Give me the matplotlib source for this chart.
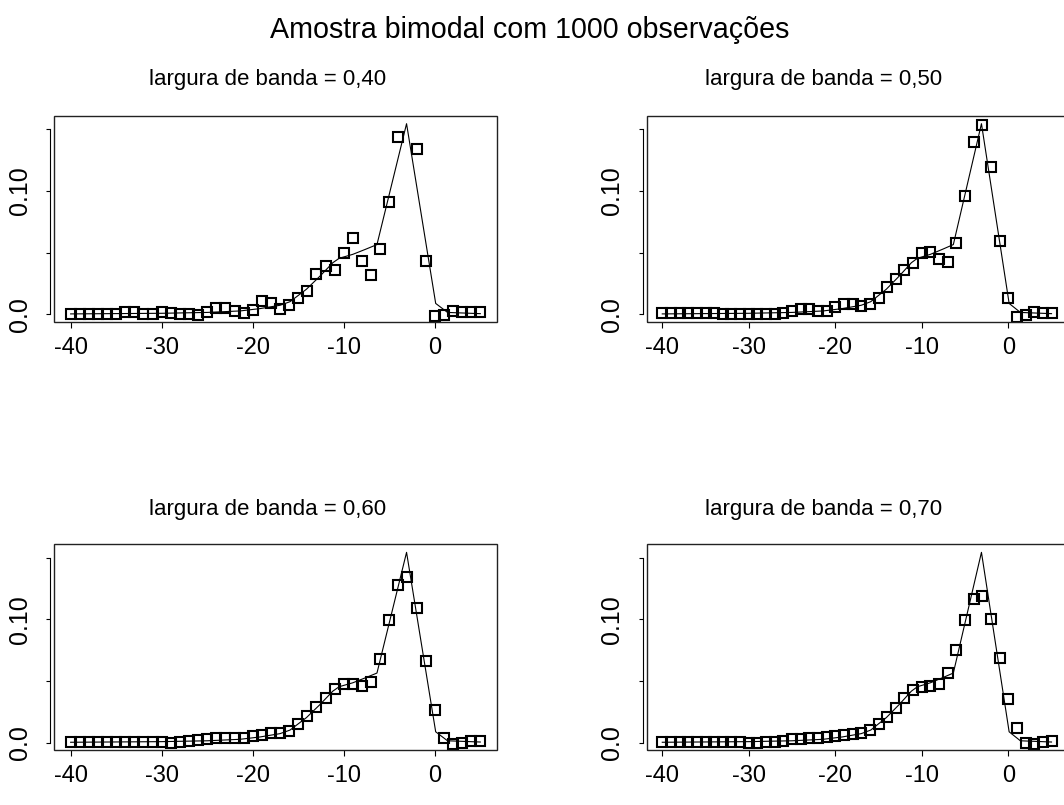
import matplotlib
matplotlib.use("Agg")
import matplotlib.pyplot as plt
from matplotlib.patches import Rectangle
import numpy as np

plt.rcParams['font.family'] = ['Liberation Sans', 'DejaVu Sans']

# ---------------- data ----------------
grid_x = list(range(-40, 6))

true_x = [-40, -30, -25, -21.4, -19.2, -17.0, -15.9, -14.1, -12.6, -11.2, -10.5,
          -9.0, -7.6, -6.35, -3.1, 0.1, 1.4, 5]
true_y = [0.0003, 0.0008, 0.0015, 0.0027, 0.0046, 0.0073, 0.0102, 0.0203, 0.031,
          0.0418, 0.0454, 0.0486, 0.0527, 0.0565, 0.1545, 0.0088, 0.0015, 0.0005]

est_040 = [0.0002, 0.0002, 0.0002, 0.0002, 0.0000, 0.0000, 0.0016, 0.0016, 0.0002, 0.0002,
           0.0016, 0.0008, 0.0002, 0.0002, -0.0006, 0.0022, 0.0049, 0.0049, 0.0027, 0.0010,
           0.0035, 0.0105, 0.0090, 0.0040, 0.0076, 0.0130, 0.0190, 0.0327, 0.0391, 0.0359,
           0.0494, 0.0616, 0.0434, 0.0319, 0.0527, 0.0907, 0.1439, 0.1750, 0.1340, 0.0434,
           -0.0010, -0.0006, 0.0027, 0.0015, 0.0015, 0.0015]
est_050 = [0.0007, 0.0007, 0.0007, 0.0007, 0.0007, 0.0007, 0.0007, 0.0002, 0.0002, 0.0002,
           0.0002, 0.0002, 0.0002, 0.0002, 0.0013, 0.0029, 0.0043, 0.0043, 0.0027, 0.0027,
           0.0056, 0.0083, 0.0083, 0.0069, 0.0080, 0.0129, 0.0218, 0.0290, 0.0359, 0.0418,
           0.0494, 0.0508, 0.0446, 0.0421, 0.0575, 0.0961, 0.1399, 0.1534, 0.1191, 0.0594,
           0.0134, -0.0024, -0.0006, 0.0016, 0.0007, 0.0007]
est_060 = [0.0008, 0.0008, 0.0008, 0.0008, 0.0008, 0.0008, 0.0008, 0.0008, 0.0008, 0.0008,
           0.0008, 0.0000, 0.0005, 0.0013, 0.0022, 0.0032, 0.0035, 0.0038, 0.0035, 0.0040,
           0.0054, 0.0065, 0.0076, 0.0081, 0.0095, 0.0148, 0.0216, 0.0289, 0.0364, 0.0432,
           0.0472, 0.0478, 0.0459, 0.0494, 0.0683, 0.0994, 0.1283, 0.1345, 0.1094, 0.0662,
           0.0262, 0.0040, -0.0008, 0.0000, 0.0013, 0.0013]
est_070 = [0.0005, 0.0005, 0.0005, 0.0005, 0.0005, 0.0005, 0.0005, 0.0005, 0.0005, 0.0005,
           0.0000, 0.0000, 0.0005, 0.0008, 0.0014, 0.0027, 0.0032, 0.0035, 0.0041, 0.0046,
           0.0054, 0.0062, 0.0073, 0.0081, 0.0103, 0.0154, 0.0211, 0.0284, 0.0359, 0.0424,
           0.0451, 0.0459, 0.0473, 0.0562, 0.0751, 0.0992, 0.1170, 0.1189, 0.1005, 0.0684,
           0.0351, 0.0116, 0.0000, -0.0008, 0.0005, 0.0014]

estimates = [est_040, est_050, est_060, est_070]
subtitles = ["largura de banda = 0,40", "largura de banda = 0,50",
             "largura de banda = 0,60", "largura de banda = 0,70"]
x_ticks = [-40, -30, -20, -10, 0]
x_ticklabels = ["-40", "-30", "-20", "-10", "0"]
y_ticks = [0.0, 0.05, 0.10, 0.15]
y_ticklabels = ["0.0", "", "0.10", ""]
title = "Amostra bimodal com 1000 observações"

# ---------------- layout ----------------
W, H = 1064, 805
fig = plt.figure(figsize=(W / 100, H / 100), dpi=100)

positions = [
    [0.0510, 0.6004, 0.4158, 0.2559],
    [0.6078, 0.6004, 0.3951, 0.2559],
    [0.0510, 0.0683, 0.4158, 0.2555],
    [0.6078, 0.0683, 0.3951, 0.2555],
]
sub_pos = [(268, 80), (824, 80), (268, 510), (824, 510)]

for i in range(4):
    ax = fig.add_axes(positions[i])
    ax.plot(true_x, true_y, color='black', lw=0.8, zorder=2)
    ax.plot(grid_x, estimates[i], linestyle='none', marker='s', ms=6.6,
            mfc='none', mec='black', mew=1.5, zorder=3)
    ax.set_xlim(-41.8, 6.8)
    ax.set_ylim(-0.006, 0.161)
    for s in ['top', 'right', 'bottom']:
        ax.spines[s].set_visible(False)
    ax.spines['left'].set_position(('outward', 3))
    ax.spines['left'].set_bounds(0.0, 0.15)
    ax.spines['left'].set_linewidth(0.8)
    ax.add_patch(Rectangle((0, 0), 1, 1, transform=ax.transAxes, fill=False,
                           lw=1.0, ec='#222222', clip_on=False, zorder=4))
    ax.set_xticks(x_ticks)
    ax.set_xticklabels(x_ticklabels, fontsize=17)
    ax.set_yticks(y_ticks)
    ax.set_yticklabels(y_ticklabels, rotation=90, va='center', fontsize=18)
    ax.tick_params(axis='x', direction='out', length=4, width=0.8, pad=7)
    ax.tick_params(axis='y', direction='out', length=3, width=0.8, pad=10)
    fig.text(sub_pos[i][0] / W, 1 - sub_pos[i][1] / H, subtitles[i],
             ha='center', va='center', fontsize=16)

fig.text(530 / W, 1 - 30 / H, title, ha='center', va='center', fontsize=20.6)

fig.savefig("out.png", dpi=100, facecolor='white')
